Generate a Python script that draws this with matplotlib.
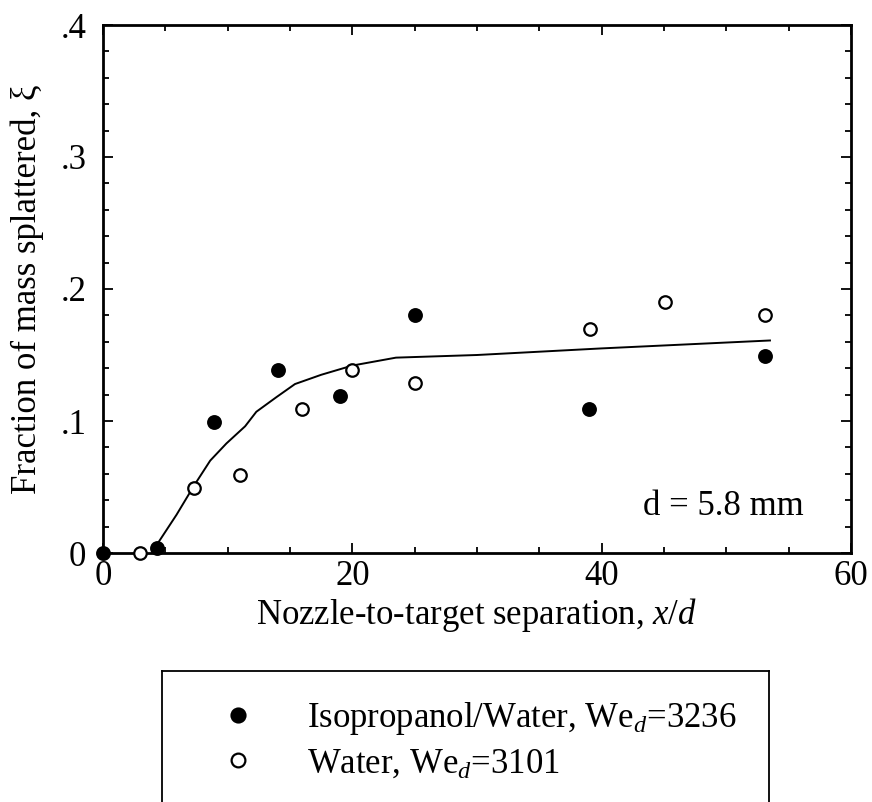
import numpy as np
import matplotlib
matplotlib.use("Agg")
import matplotlib.pyplot as plt
from matplotlib.ticker import MultipleLocator, FuncFormatter

plt.rcParams['font.family'] = ['Liberation Serif', 'DejaVu Serif']
plt.rcParams['mathtext.fontset'] = 'custom'
plt.rcParams['mathtext.rm'] = 'Liberation Serif'
plt.rcParams['mathtext.it'] = 'Liberation Serif:italic'

# isopropanol/water (filled)
iso_x = [0.0, 4.3, 8.9, 14.0, 19.0, 25.0, 39.0, 53.1]
iso_y = [0.0, 0.004, 0.099, 0.139, 0.119, 0.180, 0.109, 0.149]

# water (open)
wat_x = [3.0, 7.3, 11.0, 16.0, 20.0, 25.0, 39.1, 45.1, 53.1]
wat_y = [0.0, 0.049, 0.059, 0.109, 0.139, 0.129, 0.170, 0.190, 0.180]

# fitted curve
fit_x = [4.3, 5.9, 7.3, 8.6, 9.9, 11.4, 12.3, 13.9, 15.4, 17.5, 20.0, 23.5, 30.0, 40.0, 53.5]
fit_y = [0.006, 0.029, 0.051, 0.070, 0.083, 0.096, 0.107, 0.118, 0.128, 0.135, 0.142, 0.148, 0.150, 0.155, 0.161]

labels = [r'Isopropanol/Water, We$_d$=3236', r'Water, We$_d$=3101']

fs = 25

fig = plt.figure(figsize=(8.72, 8.02), dpi=100)
ax = fig.add_axes([103/872, 1 - 553/802, 748/872, 528/802])

ax.plot(fit_x, fit_y, color='black', lw=1.4, zorder=2)
h1, = ax.plot(iso_x, iso_y, 'o', ms=9.5, mfc='black', mec='black', mew=1.2,
              clip_on=False, zorder=3)
h2, = ax.plot(wat_x, wat_y, 'o', ms=9, mfc='white', mec='black', mew=1.6,
              clip_on=False, zorder=3)

ax.set_xlim(0, 60)
ax.set_ylim(0, 0.4)
ax.xaxis.set_major_locator(MultipleLocator(20))
ax.xaxis.set_minor_locator(MultipleLocator(5))
ax.yaxis.set_major_locator(MultipleLocator(0.1))
ax.yaxis.set_minor_locator(MultipleLocator(0.02))
ax.yaxis.set_major_formatter(FuncFormatter(
    lambda v, p: '0' if abs(v) < 1e-9 else ('%.1f' % v).lstrip('0')))
ax.tick_params(which='both', direction='in', top=True, right=True,
               labelsize=fs, color='black', width=1.3)
ax.tick_params(which='major', length=7)
ax.tick_params(which='minor', length=4.5)
ax.tick_params(axis='x', pad=5)
ax.tick_params(axis='y', pad=12)
for s in ax.spines.values():
    s.set_linewidth(2)

ax.set_xlabel(r'Nozzle-to-target separation, $x/d$', fontsize=fs, labelpad=2)
ax.set_ylabel('Fraction of mass splattered, ξ', fontsize=fs, labelpad=12)

ax.text(0.722, 0.072, 'd = 5.8 mm', transform=ax.transAxes, fontsize=fs,
        ha='left', va='baseline')

# legend box running off the bottom of the page
lax = fig.add_axes([162/872, -0.05, 607/872, (1 - 671/802) + 0.05])
lax.set_xticks([])
lax.set_yticks([])
for s in lax.spines.values():
    s.set_linewidth(1.3)
lax.legend([h1, h2], labels, loc='upper left',
           bbox_to_anchor=(203/872, 1 - 700/802), bbox_transform=fig.transFigure,
           frameon=False, fontsize=fs, handlelength=2.0, handletextpad=1.0,
           labelspacing=0.3, borderpad=0, borderaxespad=0, markerscale=1.1)

fig.savefig('out.png', dpi=100)
